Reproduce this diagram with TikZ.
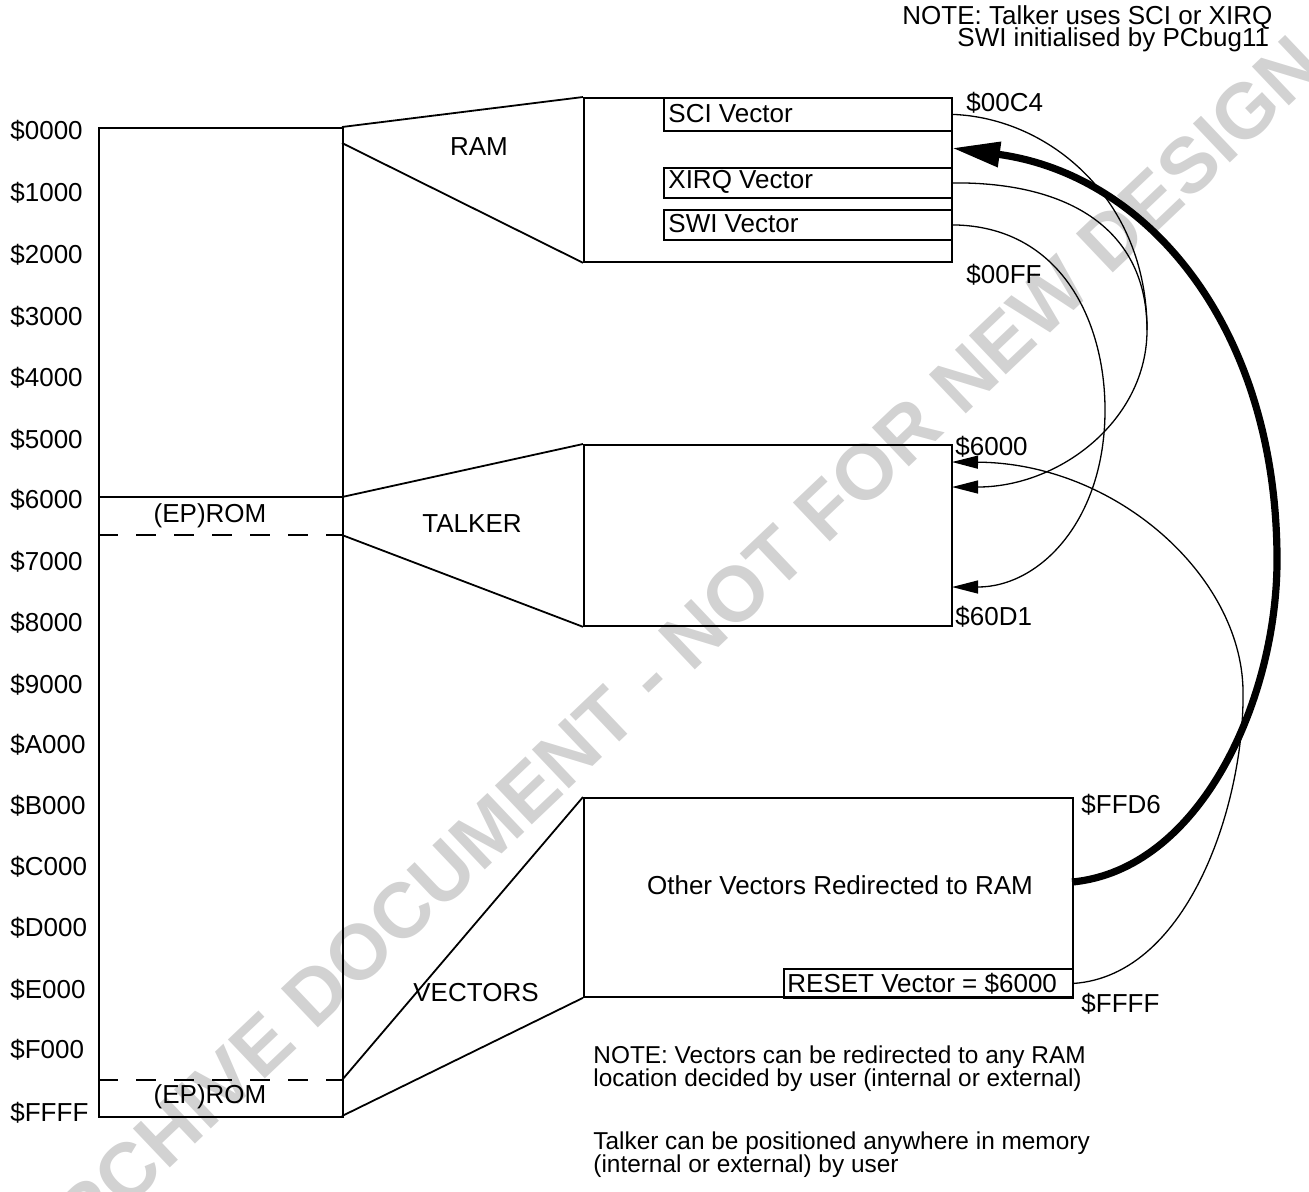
\documentclass[tikz,border=0pt]{standalone}
\usepackage{fontspec}
\setmainfont{Liberation Sans}
\usetikzlibrary{arrows.meta}
\begin{document}
\begin{tikzpicture}[x=0.5pt,y=-0.5pt,
  font=\fontsize{13}{15}\selectfont,
  box/.style={draw,rectangle,inner sep=0pt,anchor=north west,line width=0.9pt},
  lbl/.style={inner sep=0pt,anchor=west},
  ctr/.style={inner sep=0pt},
  note/.style={inner sep=0pt,anchor=west,font=\fontsize{12.2}{14}\selectfont},
  edge/.style={line width=0.9pt},
  link/.style={line width=0.65pt,-{Triangle[length=13pt,width=6.5pt]}},
  thicklink/.style={line width=3.6pt,-{Triangle[length=24pt,width=12pt]}},
  wmark/.style={rotate=43.5,text=gray!35,font=\bfseries\fontsize{39}{39}\selectfont}
]
\useasboundingbox (0,0) rectangle (1309,1191);
% watermark
\node[wmark] (wm) at (667,660) {ARCHIVE DOCUMENT - NOT FOR NEW DESIGN};

% memory map
\node[box,minimum width=122pt,minimum height=494.5pt] (mem) at (98,127) {};
\draw[edge] (98,497) -- (342,497);
\draw[edge,dash pattern=on 10pt off 9pt] (98,535) -- (342,535);
\draw[edge,dash pattern=on 10pt off 9pt] (98,1080) -- (342,1080);
\node[ctr] (rom1) at (210,516) {(EP)ROM};
\node[ctr] (rom2) at (210,1097) {(EP)ROM};

% address labels
\foreach \a/\y in {0000/131,1000/193,2000/255,3000/317,4000/378,5000/440,6000/500,7000/562,8000/623,9000/685,A000/745,B000/806,C000/867,D000/928,E000/990,F000/1050,FFFF/1113}
  \node[lbl] (ad\a) at (10,\y) {\$\a};

% RAM block
\node[box,minimum width=184pt,minimum height=82pt] (ram) at (583,97) {};
\node[box,minimum width=144pt,minimum height=16.5pt] (sci) at (663,97) {};
\node[box,minimum width=144pt,minimum height=15pt] (xirq) at (663,167) {};
\node[box,minimum width=144pt,minimum height=15pt] (swi) at (663,209) {};
\node[lbl] (scit) at (668,114) {SCI Vector};
\node[lbl] (xirqt) at (668,182) {XIRQ Vector};
\node[lbl] (swit) at (668,224) {SWI Vector};
\node[lbl] (a00c4) at (966,103) {\$00C4};
\node[lbl] (a00ff) at (966,275) {\$00FF};
\draw[edge] (342,127) -- (ram.north west);
\draw[edge] (342,143) -- (ram.south west);
\node[ctr] (ramt) at (479,147) {RAM};

% TALKER block
\node[box,minimum width=184pt,minimum height=90.5pt] (talk) at (583,444) {};
\draw[edge] (342,497) -- (talk.north west);
\draw[edge] (342,535) -- (talk.south west);
\node[ctr] (talkt) at (472,524) {TALKER};
\node[lbl] (a6000) at (955,447) {\$6000};
\node[lbl] (a60d1) at (955,617) {\$60D1};

% VECTORS block
\node[box,minimum width=244.5pt,minimum height=99.5pt] (vec) at (583,797) {};
\node[box,minimum width=144.5pt,minimum height=14.5pt] (reset) at (783,968) {};
\node[lbl] (resett) at (787,984) {RESET Vector = \$6000};
\node[ctr] (vect) at (840,885) {Other Vectors Redirected to RAM};
\draw[edge] (342,1080) -- (vec.north west);
\draw[edge] (342,1116) -- (vec.south west);
\node[ctr] (vecl) at (476,993) {VECTORS};
\node[lbl] (affd6) at (1081,805) {\$FFD6};
\node[lbl] (affff) at (1081,1004) {\$FFFF};

% notes
\node[lbl] (n1) at (902,18) {NOTE: Talker uses SCI or XIRQ};
\node[lbl] (n2) at (957,40) {SWI initialised by PCbug11};
\node[note] (n3) at (593,1057) {NOTE: Vectors can be redirected to any RAM};
\node[note] (n4) at (593,1080) {location decided by user (internal or external)};
\node[note] (n5) at (593,1143) {Talker can be positioned anywhere in memory};
\node[note] (n6) at (593,1166) {(internal or external) by user};

% connector end points
\coordinate (t1) at (952,462);
\coordinate (t2) at (952,487);
\coordinate (t3) at (952,587);
\coordinate (jn) at (1147,330);
\coordinate (ramin) at (952,148);
\coordinate (vecout) at (1072,882);

% vectors to talker
\draw[link] (sci.east) .. controls (1050,118) and (1147,200) .. (jn)
  .. controls (1147,420) and (1060,487) .. (t2);
\draw[line width=0.65pt] (xirq.east) .. controls (1070,182) and (1147,230) .. (jn);
\draw[link] (swi.east) .. controls (1060,226) and (1105,320) .. (1105,410)
  .. controls (1105,520) and (1040,587) .. (t3);
\draw[link] (reset.east) .. controls (1190,975) and (1245,800) .. (1243,690)
  .. controls (1241,575) and (1115,463) .. (t1);
\draw[thicklink] (vecout) .. controls (1200,870) and (1277,700) .. (1277,560)
  .. controls (1277,330) and (1150,175) .. (ramin);
\end{tikzpicture}
\end{document}
